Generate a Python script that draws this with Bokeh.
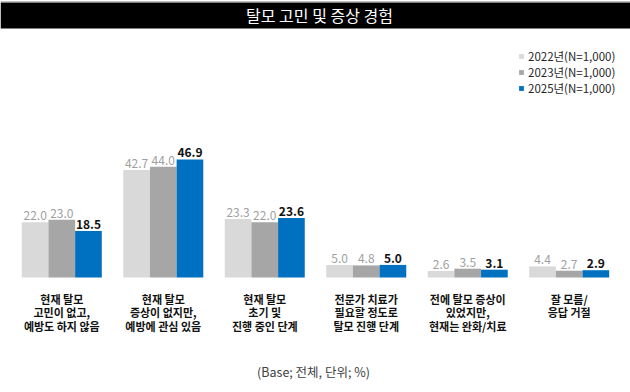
from bokeh.plotting import figure
from bokeh.models import FactorRange, Range1d, ColumnDataSource, Legend, LegendItem, Label, BoxAnnotation, Span
from bokeh.core.properties import value
from bokeh.embed import file_html
from bokeh.resources import INLINE

# ---- data ----
categories = [
    "현재 탈모\n고민이 없고,\n예방도 하지 않음",
    "현재 탈모\n증상이 없지만,\n예방에 관심 있음",
    "현재 탈모\n초기 및\n진행 중인 단계",
    "전문가 치료가\n필요할 정도로\n탈모 진행 단계",
    "전에 탈모 증상이\n있었지만,\n현재는 완화/치료",
    "잘 모름/\n응답 거절",
]
years = ["2022년(N=1,000)", "2023년(N=1,000)", "2025년(N=1,000)"]
v2022 = [22.0, 42.7, 23.3, 5.0, 2.6, 4.4]
v2023 = [23.0, 44.0, 22.0, 4.8, 3.5, 2.7]
v2025 = [18.5, 46.9, 23.6, 5.0, 3.1, 2.9]
series = [v2022, v2023, v2025]
colors = ["#d9d9d9", "#a6a6a6", "#0070c0"]
title_text = "탈모 고민 및 증상 경험"
note_text = "(Base; 전체, 단위; %)"

FONT = "Noto Sans CJK KR"
W, H = 630, 392
BASE = 277.0      # pixel row of the zero line
PXU = 2.516       # pixels per percentage point

def ypx(py):
    return (BASE - py) / PXU

factors = [(c, y) for c in categories for y in years]

p = figure(width=W, height=H, output_backend="svg", toolbar_location=None,
           x_range=FactorRange(*factors, group_padding=0.805, factor_padding=0.0,
                               range_padding=0.0725),
           y_range=Range1d(ypx(H), ypx(0)),
           x_axis_location=None, y_axis_location=None,
           min_border=0, min_border_left=0, min_border_right=0,
           min_border_top=0, min_border_bottom=0)
p.grid.visible = False
p.outline_line_color = None
p.background_fill_color = "white"

# title band
p.add_layout(BoxAnnotation(top=ypx(2), bottom=ypx(27.5), fill_color="black", fill_alpha=1.0,
                           line_color=None, level="underlay"))
p.add_layout(Span(location=ypx(1.5), dimension="width", line_color="#808080", line_width=1))
p.add_layout(Span(location=ypx(28), dimension="width", line_color="#808080", line_width=1))
p.add_layout(Label(x=319, x_units="screen", y=ypx(14.5), text=title_text,
                   text_align="center", text_baseline="middle", text_color="white",
                   text_font=FONT, text_font_size="16px"))

items = []
for yi, (yr, vals, col) in enumerate(zip(years, series, colors)):
    src = ColumnDataSource(dict(x=[(c, yr) for c in categories], top=vals,
                                lab=[f"{v:.1f}" for v in vals]))
    r = p.vbar(x="x", top="top", width=1.0, source=src, fill_color=col, line_color=None)
    items.append(LegendItem(label=yr, renderers=[r]))
    if yi < 2:
        p.text(x="x", y="top", text="lab", source=src, text_align="center",
               text_baseline="alphabetic", y_offset=-6.5, text_color="#a0a0a0",
               text_font=value(FONT), text_font_size="12px")
    else:
        p.text(x="x", y="top", text="lab", source=src, text_align="center",
               text_baseline="alphabetic", y_offset=-6.5, text_color="#111111",
               text_font=value(FONT), text_font_size="12px", text_font_style="bold")

# category labels
p.text(x=categories, y=[0] * len(categories), text=categories, text_align="center",
       text_baseline="top", y_offset=13, text_color="#111111", text_font=value(FONT),
       text_font_size="11px", text_font_style="bold", text_line_height=0.85)

# footnote
p.add_layout(Label(x=313, x_units="screen", y=ypx(371), text=note_text,
                   text_align="center", text_baseline="middle", text_color="#404040",
                   text_font=FONT, text_font_size="12.5px"))

legend = Legend(items=items, location=(518, 296), orientation="vertical",
                glyph_width=6, glyph_height=6, label_height=12, label_width=10,
                spacing=0, padding=0, margin=0, label_standoff=4,
                label_text_font=FONT, label_text_font_size="11.5px",
                label_text_color="#262626",
                background_fill_alpha=0, border_line_alpha=0)
p.add_layout(legend)

open("out.html", "w").write(file_html(p, INLINE))
